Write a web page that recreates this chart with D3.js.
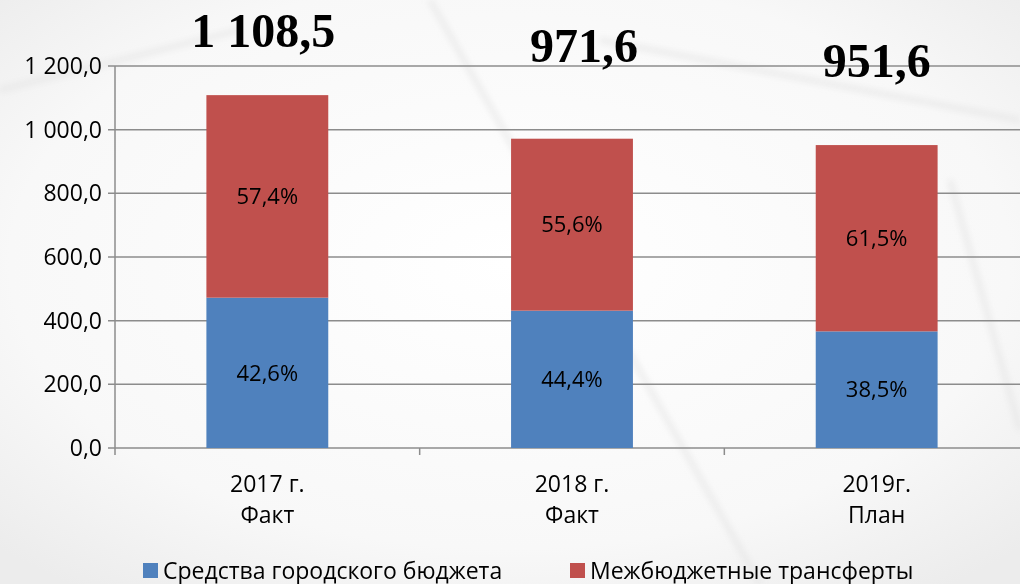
<!DOCTYPE html>
<html>
<head>
<meta charset="utf-8">
<script src="https://cdn.jsdelivr.net/npm/d3@7"></script>
<style>
  html, body { margin: 0; padding: 0; background: #f4f4f4; }
  svg { display: block; }
</style>
</head>
<body>
<div id="chart"></div>
<script>
// data
var categories = ["2017 г.|Факт", "2018 г.|Факт", "2019г.|План"];
var totals = [1108.5, 971.6, 951.6];
var totalLabels = ["1 108,5", "971,6", "951,6"];
var ownShare = [42.6, 44.4, 38.5];      // Средства городского бюджета, %
var transferShare = [57.4, 55.6, 61.5]; // Межбюджетные трансферты, %
var yTicks = [0, 200, 400, 600, 800, 1000, 1200];
var seriesNames = ["Средства городского бюджета", "Межбюджетные трансферты"];

var width = 1020, height = 584;
var plotLeft = 115, plotRight = 1029, plotTop = 66, plotBottom = 448;
var colors = ["#4f81bd", "#c0504d"];
// hand-placed total labels (baseline y, x shift)
var totalBaseline = [47, 62, 77];
var totalShift = [-4, 12, 0];

var svg = d3.select("#chart").append("svg")
    .attr("width", width)
    .attr("height", height);

// background
var defs = svg.append("defs");
var bg = defs.append("radialGradient").attr("id", "bg")
    .attr("cx", "50%").attr("cy", "45%").attr("r", "70%");
bg.append("stop").attr("offset", "0%").attr("stop-color", "#ffffff");
bg.append("stop").attr("offset", "70%").attr("stop-color", "#f8f8f8");
bg.append("stop").attr("offset", "100%").attr("stop-color", "#ececec");
defs.append("filter").attr("id", "blur")
    .append("feGaussianBlur").attr("stdDeviation", 3);

svg.append("rect").attr("width", width).attr("height", height).attr("fill", "url(#bg)");

var streaks = [[430, 0, 760, 584], [600, 40, 1020, 120], [0, 90, 240, 30], [950, 180, 1020, 430]];
svg.append("g").attr("filter", "url(#blur)")
  .selectAll("line").data(streaks).join("line")
    .attr("x1", d => d[0]).attr("y1", d => d[1])
    .attr("x2", d => d[2]).attr("y2", d => d[3])
    .attr("stroke", "#e2e2e2").attr("stroke-width", 5).attr("opacity", 0.6);

var x = d3.scaleBand()
    .domain(categories)
    .range([plotLeft, plotRight])
    .paddingInner(0.6)
    .paddingOuter(0.3);

var y = d3.scaleLinear()
    .domain([0, 1200])
    .range([plotBottom, plotTop]);

// gridlines
svg.append("g").selectAll("line").data(yTicks).join("line")
    .attr("x1", plotLeft - 7).attr("x2", width)
    .attr("y1", d => y(d)).attr("y2", d => y(d))
    .attr("stroke", "#8c8c8c").attr("stroke-width", 1.5);

// y axis line
svg.append("line")
    .attr("x1", plotLeft).attr("x2", plotLeft)
    .attr("y1", y(1200)).attr("y2", plotBottom + 7)
    .attr("stroke", "#8c8c8c").attr("stroke-width", 1.5);

// category ticks
var step = x.step();
svg.append("g").selectAll("line").data(categories.slice(1)).join("line")
    .attr("x1", d => x(d) - x.paddingInner() * step / 2)
    .attr("x2", d => x(d) - x.paddingInner() * step / 2)
    .attr("y1", plotBottom).attr("y2", plotBottom + 7)
    .attr("stroke", "#8c8c8c").attr("stroke-width", 1.5);

var fmt = function(v) {
  return d3.format(",.1f")(v).replace(/,/g, " ").replace(".", ",");
};

// y tick labels
svg.append("g").selectAll("text").data(yTicks).join("text")
    .attr("x", plotLeft - 13)
    .attr("y", d => y(d))
    .attr("dy", "0.35em")
    .attr("text-anchor", "end")
    .style("font-family", "'Open Sans', sans-serif")
    .style("font-size", "23px")
    .attr("fill", "#000")
    .text(fmt);

// stacked bars
var rows = categories.map(function(c, i) {
  var own = totals[i] * ownShare[i] / 100;
  return {cat: c, own: own, total: totals[i], i: i};
});

var segs = [];
rows.forEach(function(r) {
  segs.push({cat: r.cat, y0: 0, y1: r.own, s: 0, pct: ownShare[r.i]});
  segs.push({cat: r.cat, y0: r.own, y1: r.total, s: 1, pct: transferShare[r.i]});
});

svg.append("g").selectAll("rect").data(segs).join("rect")
    .attr("x", d => x(d.cat))
    .attr("width", x.bandwidth())
    .attr("y", d => y(d.y1))
    .attr("height", d => y(d.y0) - y(d.y1))
    .attr("fill", d => colors[d.s]);

svg.append("g").selectAll("text").data(segs).join("text")
    .attr("x", d => x(d.cat) + x.bandwidth() / 2)
    .attr("y", d => y((d.y0 + d.y1) / 2))
    .attr("dy", "0.35em")
    .attr("text-anchor", "middle")
    .style("font-family", "'Open Sans', sans-serif")
    .style("font-size", "22px")
    .attr("fill", "#000")
    .text(d => d.pct.toFixed(1).replace(".", ",") + "%");

// totals
svg.append("g").selectAll("text").data(rows).join("text")
    .attr("x", d => x(d.cat) + x.bandwidth() / 2 + totalShift[d.i])
    .attr("y", d => totalBaseline[d.i])
    .attr("text-anchor", "middle")
    .style("font-family", "'Liberation Serif', 'Times New Roman', serif")
    .style("font-weight", "bold")
    .style("font-size", "48px")
    .attr("fill", "#000")
    .text(d => totalLabels[d.i]);

// category labels
var cl = svg.append("g").selectAll("text").data(categories).join("text")
    .attr("x", d => x(d) + x.bandwidth() / 2)
    .attr("y", 492)
    .attr("text-anchor", "middle")
    .style("font-family", "'Open Sans', sans-serif")
    .style("font-size", "23px")
    .attr("fill", "#000");
cl.append("tspan").text(d => d.split("|")[0]);
cl.append("tspan")
    .attr("x", d => x(d) + x.bandwidth() / 2)
    .attr("dy", 31)
    .text(d => d.split("|")[1]);

// legend
var legX = [143, 570];
var leg = svg.append("g").selectAll("g").data(seriesNames).join("g")
    .attr("transform", (d, i) => "translate(" + legX[i] + ",563)");
leg.append("rect").attr("width", 15).attr("height", 15).attr("fill", (d, i) => colors[i]);
leg.append("text")
    .attr("x", 20).attr("y", 8).attr("dy", "0.35em")
    .style("font-family", "'Open Sans', sans-serif")
    .style("font-size", "23px")
    .attr("fill", "#000")
    .text(d => d);
</script>
</body>
</html>
